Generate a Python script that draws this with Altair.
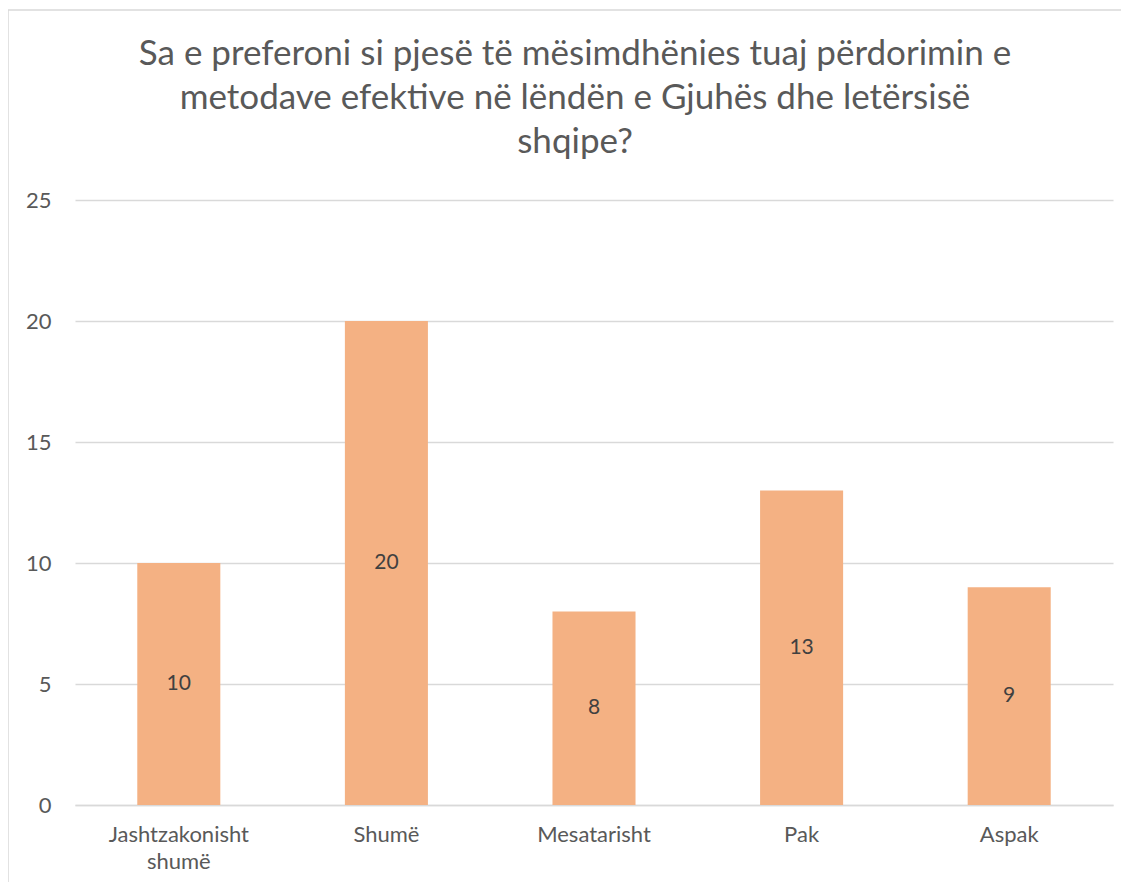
import altair as alt
import pandas as pd

categories = ["Jashtzakonisht\nshumë", "Shumë", "Mesatarisht", "Pak", "Aspak"]
values = [10, 20, 8, 13, 9]

title_lines = [
    "Sa e preferoni si pjesë të mësimdhënies tuaj përdorimin e",
    "metodave efektive në lëndën e Gjuhës dhe letërsisë",
    "shqipe?",
]

df = pd.DataFrame({"cat": categories, "val": values})

FONT = "Lato"
TXT = "#595959"
GRID = "#D9D9D9"
BAR = "#F4B183"

W, H = 1038, 605
yscale = alt.Scale(domain=[0, 25], nice=False, zero=True)

xenc = alt.X(
    "cat:N",
    sort=categories,
    title=None,
    scale=alt.Scale(paddingInner=0.6, paddingOuter=0.3),
    axis=alt.Axis(
        labelAngle=0,
        labelExpr="split(datum.label, '\\n')",
        labelFont=FONT,
        labelFontSize=22,
        labelColor=TXT,
        labelPadding=19,
        labelLineHeight=27,
        ticks=False,
        domainColor=GRID,
        domainWidth=1.5,
        grid=False,
    ),
)

yaxis = alt.Axis(
    values=[0, 5, 10, 15, 20, 25],
    labelFont=FONT,
    labelFontSize=22,
    labelColor=TXT,
    labelPadding=24,
    ticks=False,
    domain=False,
    gridColor=GRID,
    gridWidth=1.5,
)

bars = alt.Chart(df).mark_bar(color=BAR).encode(
    x=xenc,
    y=alt.Y("val:Q", title=None, scale=yscale, axis=yaxis),
)

labels = alt.Chart(df).transform_calculate(mid="datum.val / 2").mark_text(
    font=FONT, fontSize=21, color="#404040"
).encode(
    x=alt.X("cat:N", sort=categories),
    y=alt.Y("mid:Q", scale=yscale),
    text=alt.Text("val:Q"),
)

frame = alt.Chart(df).transform_filter("datum.cat == 'Pak'").mark_rect(
    fill=None, stroke=GRID, strokeWidth=1.5, clip=False
).encode(
    x=alt.value(-67), x2=alt.value(W + 40), y=alt.value(-190), y2=alt.value(H + 120)
)

chart = alt.layer(frame, bars, labels).properties(
    width=W,
    height=H,
    title=alt.Title(
        title_lines,
        font=FONT,
        fontSize=35,
        fontWeight="normal",
        color=TXT,
        lineHeight=44,
        anchor="middle",
        offset=-151,
        dx=-19,
    ),
    autosize=alt.AutoSizeParams(type="none"),
    padding={"left": 67, "top": 192, "right": 8, "bottom": 77},
).configure(background="white").configure_view(stroke=None)

chart.save("out.html", embed_options={"renderer": "svg", "actions": False})
